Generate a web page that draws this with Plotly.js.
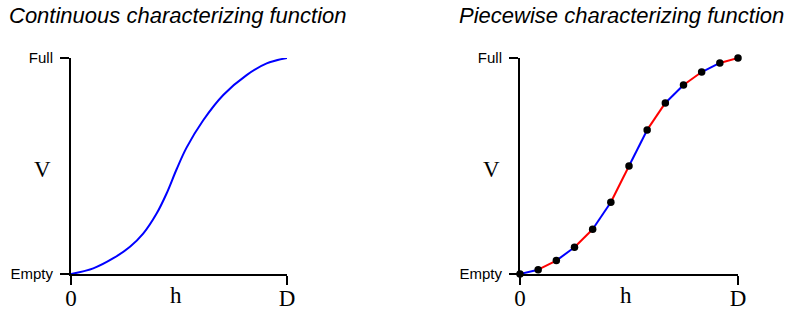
<!DOCTYPE html>
<html>
<head>
<meta charset="utf-8">
<script src="https://cdn.plot.ly/plotly-3.0.1.min.js"></script>
<style>html,body{margin:0;padding:0;background:#fff;}</style>
</head>
<body>
<div id="chart" style="width:798px;height:314px;"></div>
<script>
// Continuous curve (left panel)
const contX = [0, 0.103, 0.196, 0.273, 0.335, 0.397, 0.443, 0.489, 0.535, 0.613, 0.705, 0.813, 0.906, 1.0];
const contY = [0, 0.026, 0.073, 0.126, 0.188, 0.281, 0.374, 0.485, 0.585, 0.713, 0.829, 0.921, 0.975, 1.0];
// Piecewise points (right panel)
const pieceX = [0, 0.0833, 0.1667, 0.25, 0.3333, 0.4167, 0.5, 0.5833, 0.6667, 0.75, 0.8333, 0.9167, 1];
const pieceY = [0, 0.02, 0.062, 0.124, 0.207, 0.332, 0.5, 0.667, 0.792, 0.875, 0.935, 0.977, 1.0];
const segColors = ['#0000ff', '#ff0000'];
// Tick labels
const xTickVals = [0, 1];
const xTickText = ['0', 'D'];
const yTickVals = [0, 1];
const yTickText = ['Empty', 'Full'];
const titles = ['Continuous characterizing function', 'Piecewise characterizing function'];
const xLabel = 'h';
const yLabel = 'V';

const W = 798, H = 314;
const px = v => v / W;
const py = v => (H - v) / H;

const traces = [];
traces.push({
  x: contX, y: contY, xaxis: 'x', yaxis: 'y', mode: 'lines',
  line: {color: '#0000ff', width: 2, shape: 'spline', smoothing: 1},
  hoverinfo: 'skip', cliponaxis: false
});
for (let i = 0; i < pieceX.length - 1; i++) {
  traces.push({
    x: [pieceX[i], pieceX[i + 1]], y: [pieceY[i], pieceY[i + 1]],
    xaxis: 'x2', yaxis: 'y2', mode: 'lines',
    line: {color: segColors[i % 2], width: 2},
    hoverinfo: 'skip', cliponaxis: false
  });
}
traces.push({
  x: pieceX, y: pieceY, xaxis: 'x2', yaxis: 'y2', mode: 'markers',
  marker: {color: '#000', size: 7.5},
  hoverinfo: 'skip', cliponaxis: false
});

function xa(domain, anchor) {
  return {
    domain: domain, anchor: anchor, range: [0, 1], fixedrange: true,
    tickmode: 'array', tickvals: xTickVals, ticktext: xTickText,
    ticks: 'outside', ticklen: 9, tickwidth: 2, tickcolor: '#000',
    ticklabelstandoff: -7,
    showline: true, linewidth: 2, linecolor: '#000',
    showgrid: false, zeroline: false,
    tickfont: {family: 'Liberation Serif, Times New Roman, serif', size: 23, color: '#000'}
  };
}
function ya(anchor) {
  return {
    domain: [py(274), py(58)], anchor: anchor, range: [0, 1], fixedrange: true,
    tickmode: 'array', tickvals: yTickVals, ticktext: yTickText,
    ticks: 'outside', ticklen: 9, tickwidth: 2, tickcolor: '#000',
    ticklabelstandoff: 4,
    showline: true, linewidth: 2, linecolor: '#000',
    showgrid: false, zeroline: false,
    tickfont: {family: 'Liberation Sans, Arial, sans-serif', size: 15, color: '#000'}
  };
}

const titleFont = {family: 'Liberation Sans, Arial, sans-serif', size: 22, color: '#000', style: 'italic'};
const serifFont = {family: 'Liberation Serif, Times New Roman, serif', size: 23, color: '#000'};

const layout = {
  width: W, height: H,
  margin: {l: 0, r: 0, t: 0, b: 0},
  paper_bgcolor: '#fff', plot_bgcolor: '#fff',
  showlegend: false,
  xaxis: xa([px(71), px(287)], 'y'),
  yaxis: ya('x'),
  xaxis2: xa([px(520), px(738)], 'y2'),
  yaxis2: ya('x2'),
  annotations: [
    {text: titles[0], xref: 'paper', yref: 'paper', x: px(7), y: py(16), xanchor: 'left', yanchor: 'middle', showarrow: false, font: titleFont},
    {text: titles[1], xref: 'paper', yref: 'paper', x: px(457), y: py(16), xanchor: 'left', yanchor: 'middle', showarrow: false, font: titleFont},
    {text: yLabel, xref: 'paper', yref: 'paper', x: px(42.7), y: py(169), xanchor: 'center', yanchor: 'middle', showarrow: false, font: serifFont},
    {text: yLabel, xref: 'paper', yref: 'paper', x: px(491.5), y: py(169), xanchor: 'center', yanchor: 'middle', showarrow: false, font: serifFont},
    {text: xLabel, xref: 'paper', yref: 'paper', x: px(176), y: py(295), xanchor: 'center', yanchor: 'middle', showarrow: false, font: serifFont},
    {text: xLabel, xref: 'paper', yref: 'paper', x: px(626), y: py(295), xanchor: 'center', yanchor: 'middle', showarrow: false, font: serifFont}
  ]
};

Plotly.newPlot('chart', traces, layout, {staticPlot: true, displayModeBar: false});
</script>
</body>
</html>
